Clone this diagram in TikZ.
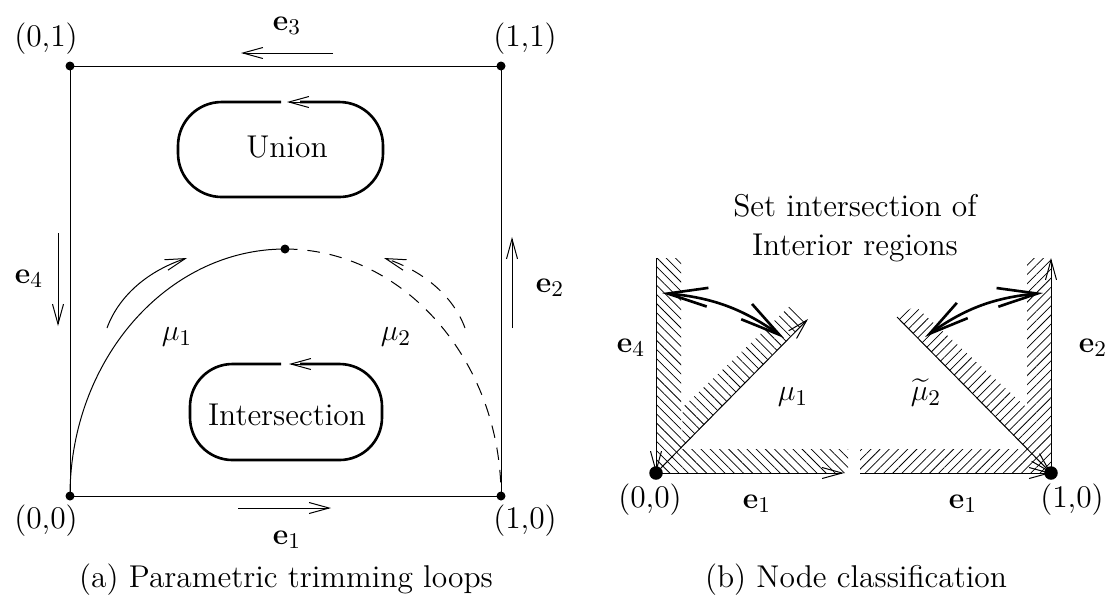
\documentclass[tikz,border=0pt]{standalone}
\usepackage{amsmath}
\usetikzlibrary{arrows.meta, patterns.meta}
\tikzset{
  dot/.style={circle, fill=black, inner sep=0pt, minimum size=3.6pt},
  bigdot/.style={circle, fill=black, inner sep=0pt, minimum size=5.4pt},
  txt/.style={font=\fontsize{12.6}{15.4}\selectfont, inner sep=0pt, align=center},
  thin line/.style={line width=0.4pt},
  arrow/.style={-{Straight Barb[length=8pt, width=4.4pt, line width=0.4pt]}, line width=0.4pt},
  trimloop/.style={line width=1.05pt},
  fatarrow/.style={{Straight Barb[length=16pt, width=7.5pt, line width=1.05pt]}-{Straight Barb[length=16pt, width=7.5pt, line width=1.05pt]}, line width=1.05pt},
  hatchl/.style={pattern={Lines[angle=-45, distance=2.6pt, line width=0.3pt]}, draw=none},
  hatchr/.style={pattern={Lines[angle=45, distance=2.6pt, line width=0.3pt]}, draw=none}
}
\begin{document}
\begin{tikzpicture}[x=0.4pt, y=-0.4pt]
\useasboundingbox (0,0) rectangle (1112,603);
%--- Parametric trimming loops (left) ---
\node[dot] (p00) at (70,496) {};
\node[dot] (p10) at (501,496) {};
\node[dot] (p11) at (501,66) {};
\node[dot] (p01) at (70,66) {};
\node[dot] (pmid) at (285,249) {};
\draw[thin line] (p00.center) -- (p10.center) -- (p11.center) -- (p01.center) -- cycle;
% trimming curves
\draw[thin line] (p00.center) .. controls (70,360) and (167,249) .. (pmid.center);
\draw[thin line, dash pattern=on 5pt off 4pt] (pmid.center) .. controls (403,249) and (501,360) .. (p10.center);
% direction arrows
\foreach \name/\x/\y in {ae4a/58/233, ae4b/58/326, ae2a/512/328, ae2b/512/237, ae1a/238/508, ae1b/331/508,
    ae3a/333/53, ae3b/241/53, amua/107/328, amub/187/258, amuc/465/328, amud/384/258} {
  \coordinate (\name) at (\x,\y);
}
\draw[arrow] (ae4a) -- (ae4b);
\draw[arrow] (ae2a) -- (ae2b);
\draw[arrow] (ae1a) -- (ae1b);
\draw[arrow] (ae3a) -- (ae3b);
\draw[arrow] (amua) .. controls (118,298) and (145,272) .. (amub);
\draw[arrow, dash pattern=on 5pt off 4pt] (amuc) .. controls (454,298) and (426,272) .. (amud);
% loops
\draw[trimloop, rounded corners=17.5pt] (281,102) -- (178,102) -- (178,197) -- (383,197) -- (383,102) -- (300,102);
\draw[trimloop, rounded corners=17pt] (281,364) -- (190,364) -- (190,460) -- (382,460) -- (382,364) -- (300,364);
\draw[arrow] (308,364) -- (289,364);
\draw[arrow] (306,102) -- (287,102);
% labels
\node[txt] (l01) at (46,39) {(0,1)};
\node[txt] (l11) at (525,39) {(1,1)};
\node[txt] (l00) at (46,521) {(0,0)};
\node[txt] (l10) at (525,521) {(1,0)};
\node[txt] (le3) at (287,26) {$\mathbf{e}_3$};
\node[txt] (le1) at (287,540) {$\mathbf{e}_1$};
\node[txt] (le4) at (29,279) {$\mathbf{e}_4$};
\node[txt] (le2) at (550,288) {$\mathbf{e}_2$};
\node[txt] (lmu1) at (177,337) {$\mu_1$};
\node[txt] (lmu2) at (396,337) {$\mu_2$};
\node[txt] (lunion) at (287,147) {Union};
\node[txt] (linter) at (287,415) {Intersection};
\node[txt] (capa) at (286,580) {(a) Parametric trimming loops};

%--- Node classification (right) ---
\node[txt] (lset) at (855,228) {Set intersection of\\Interior regions};
% hatching
\fill[hatchl] (656,258) -- (681,258) -- (681,449) -- (848,449) -- (848,473) -- (656,473) -- cycle;
\fill[hatchl] (808,318) -- (790,306) -- (683,407) -- (681,449) -- (664,466) -- cycle;
\fill[hatchr] (1051,258) -- (1027,258) -- (1027,449) -- (860,449) -- (860,473) -- (1051,473) -- cycle;
\fill[hatchr] (897,317) -- (915,306) -- (1027,408) -- (1027,449) -- (1043,466) -- cycle;
\node[bigdot] (q00) at (656,473) {};
\node[bigdot] (q10) at (1051,473) {};
\foreach \name/\x/\y in {qe4/656/258, qe1a/844/473, qmua/808/319, qe2/1051/258, qe1b/860/473, qmub/897/317,
    fla/662/293, flb/784/338, fra/1043/293, frb/925/337} {
  \coordinate (\name) at (\x,\y);
}
\draw[arrow] (qe4) -- (q00.center);
\draw[arrow] (q00.center) -- (qe1a);
\draw[arrow] (q00.center) -- (qmua);
\draw[arrow] (q10.center) -- (qe2);
\draw[arrow] (qe1b) -- (q10.center);
\draw[arrow] (qmub) -- (q10.center);
\draw[fatarrow] (fla) to[bend left=15] (flb);
\draw[fatarrow] (fra) to[bend right=15] (frb);
% labels
\node[txt] (re4) at (631,348) {$\mathbf{e}_4$};
\node[txt] (re2) at (1093,348) {$\mathbf{e}_2$};
\node[txt] (re1a) at (757,504) {$\mathbf{e}_1$};
\node[txt] (re1b) at (963,504) {$\mathbf{e}_1$};
\node[txt] (rmu1) at (793,397) {$\mu_1$};
\node[txt] (rmu2) at (926,393) {$\widetilde{\mu}_2$};
\node[txt] (r00) at (650,500) {(0,0)};
\node[txt] (r10) at (1072,500) {(1,0)};
\node[txt] (capb) at (856,580) {(b) Node classification};
\end{tikzpicture}
\end{document}
